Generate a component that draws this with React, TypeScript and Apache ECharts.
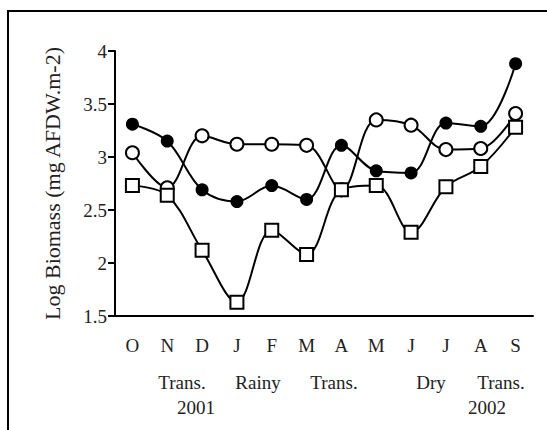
import React, { useEffect, useRef } from "react";
import * as echarts from "echarts";

const months = ["O", "N", "D", "J", "F", "M", "A", "M", "J", "J", "A", "S"];
const filledCircle = [3.31, 3.15, 2.69, 2.58, 2.73, 2.60, 3.11, 2.87, 2.85, 3.32, 3.29, 3.88];
const openCircle = [3.04, 2.71, 3.20, 3.12, 3.12, 3.11, 2.69, 3.35, 3.30, 3.07, 3.08, 3.41];
const openSquare = [2.73, 2.64, 2.12, 1.63, 2.31, 2.08, 2.69, 2.73, 2.29, 2.72, 2.91, 3.28];
const seasonLabels = ["Trans.", "Rainy", "Trans.", "Dry", "Trans."];
const yearLabels = ["2001", "2002"];
const yAxisTitle = "Log Biomass (mg AFDW.m-2)";

const FONT = "'Liberation Serif', 'DejaVu Serif', serif";

export default function App() {
  const ref = useRef<HTMLDivElement>(null);
  useEffect(() => {
    if (!ref.current) return;
    const chart = echarts.init(ref.current, null, { renderer: "svg" });
    const seasonX = [182, 258, 334, 431, 501];
    const yearX = [196, 487];
    const lineSeries = (data: number[], symbol: string, fill: string, z: number) => ({
      type: "line",
      data,
      smooth: 0.35,
      symbol,
      symbolSize: 13,
      showAllSymbol: true,
      z,
      lineStyle: { color: "#000", width: 2 },
      itemStyle: { color: fill, borderColor: "#000", borderWidth: fill === "#000" ? 0 : 2 },
    });
    chart.setOption({
      animation: false,
      textStyle: { fontFamily: FONT },
      grid: { left: 115, right: 14, top: 51, bottom: 114, containLabel: false },
      xAxis: {
        type: "category",
        data: months,
        boundaryGap: true,
        axisLine: { lineStyle: { color: "#000", width: 2 } },
        axisTick: { alignWithLabel: false, length: 7, lineStyle: { color: "#000", width: 2 } },
        axisLabel: { color: "#222", fontSize: 19, fontFamily: FONT, margin: 20, interval: 0 },
        splitLine: { show: false },
      },
      yAxis: {
        type: "value",
        min: 1.5,
        max: 4,
        interval: 0.5,
        name: yAxisTitle,
        nameLocation: "middle",
        nameGap: 52,
        nameTextStyle: { color: "#222", fontSize: 22, fontFamily: FONT },
        axisLine: { show: true, lineStyle: { color: "#000", width: 2 } },
        axisTick: { show: true, length: 7, lineStyle: { color: "#000", width: 2 } },
        axisLabel: { color: "#222", fontSize: 19, fontFamily: FONT, margin: 8 },
        splitLine: { show: false },
      },
      series: [
        lineSeries(filledCircle, "circle", "#000", 2),
        lineSeries(openCircle, "circle", "#fff", 3),
        lineSeries(openSquare, "rect", "#fff", 4),
      ],
      graphic: [
        {
          type: "rect",
          shape: { x: 8, y: 11, width: 700, height: 600 },
          style: { fill: "none", stroke: "#000", lineWidth: 2 },
          silent: true,
        },
        ...seasonLabels.map((t, i) => ({
          type: "text",
          x: seasonX[i],
          y: 382,
          style: { text: t, fill: "#222", font: `19px ${FONT}`, textAlign: "center", textVerticalAlign: "middle" },
        })),
        ...yearLabels.map((t, i) => ({
          type: "text",
          x: yearX[i],
          y: 407,
          style: { text: t, fill: "#222", font: `19px ${FONT}`, textAlign: "center", textVerticalAlign: "middle" },
        })),
      ],
    });
    return () => chart.dispose();
  }, []);
  return <div ref={ref} style={{ width: 547, height: 430, position: "absolute", left: 0, top: 0 }} />;
}
